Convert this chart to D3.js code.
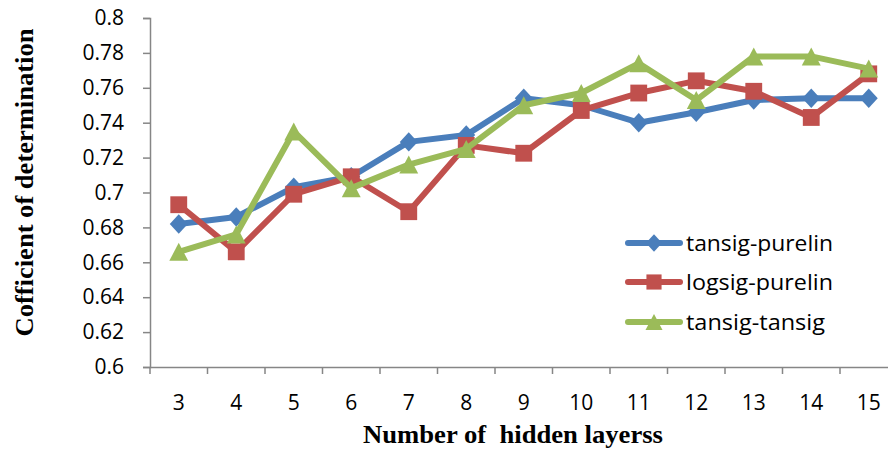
<!DOCTYPE html>
<html><head><meta charset="utf-8">
<script src="https://cdn.jsdelivr.net/npm/d3@7"></script>
<style>body{margin:0;background:#fff}svg{display:block}</style>
</head><body>
<svg id="c" width="888" height="450"></svg>
<script>
const categories = [3,4,5,6,7,8,9,10,11,12,13,14,15];
const tansigPurelin = [0.682,0.686,0.703,0.709,0.729,0.733,0.754,0.750,0.740,0.746,0.753,0.754,0.754];
const logsigPurelin = [0.693,0.666,0.699,0.709,0.689,0.727,0.7225,0.747,0.757,0.764,0.758,0.743,0.768];
const tansigTansig = [0.666,0.676,0.735,0.7025,0.716,0.725,0.750,0.757,0.774,0.753,0.778,0.778,0.771];
const yTicks = [0.6,0.62,0.64,0.66,0.68,0.7,0.72,0.74,0.76,0.78,0.8];
const seriesNames = ["tansig-purelin","logsig-purelin","tansig-tansig"];
const seriesColors = ["#4A7EBB","#C0504D","#9BBB59"];
const series = [tansigPurelin, logsigPurelin, tansigTansig];

(function(){
const svg = d3.select("#c");
const mLeft = 150, mRight = 897.5, mTop = 18, mBottom = 367;
const x = d3.scaleBand().domain(categories).range([mLeft, mRight]).padding(0);
const y = d3.scaleLinear().domain([0.6, 0.8]).range([mBottom, mTop]);
const axisColor = "#868686";
const tickFont = "'Open Sans', 'Noto Sans', sans-serif";
const serif = "'Liberation Serif', 'Times New Roman', serif";

// y axis
const ya = svg.append("g").attr("transform", `translate(${mLeft},0)`)
  .call(d3.axisLeft(y).tickValues(yTicks).tickSize(7).tickPadding(19).tickFormat(d => String(+d.toFixed(2))));
ya.select(".domain").attr("stroke", axisColor).attr("stroke-width", 1.5);
ya.selectAll(".tick line").attr("stroke", axisColor).attr("stroke-width", 1.5);
ya.selectAll("text").attr("font-family", tickFont).attr("font-size", 21).attr("fill", "#000");

// x axis
const xa = svg.append("g").attr("transform", `translate(0,${mBottom})`)
  .call(d3.axisBottom(x).tickSize(0).tickPadding(28));
xa.select(".domain").attr("stroke", axisColor).attr("stroke-width", 1.5);
xa.selectAll("text").attr("font-family", tickFont).attr("font-size", 21).attr("fill", "#000");
const bounds = categories.map(c => x(c)).concat([mRight]);
svg.append("g").selectAll("line").data(bounds).join("line")
  .attr("x1", d => d).attr("x2", d => d).attr("y1", mBottom).attr("y2", mBottom + 7)
  .attr("stroke", axisColor).attr("stroke-width", 1.5);

// axis titles
svg.append("text").attr("transform", `translate(33,182.5) rotate(-90)`)
  .attr("text-anchor", "middle").attr("font-family", serif)
  .attr("font-weight", "bold").attr("font-size", 26)
  .attr("textLength", 308).attr("lengthAdjust", "spacingAndGlyphs")
  .text("Cofficient of determination");
svg.append("text").attr("x", 513).attr("y", 443)
  .attr("text-anchor", "middle").attr("font-family", serif)
  .attr("font-weight", "bold").attr("font-size", 25).style("white-space", "pre")
  .attr("textLength", 300).attr("lengthAdjust", "spacingAndGlyphs")
  .text("Number of  hidden layerss");

const cx = c => x(c) + x.bandwidth() / 2;
const triangleBox = { draw(ctx, size) {
  const h = Math.sqrt(size), w = h * 1.05;
  ctx.moveTo(0, -h / 2); ctx.lineTo(w / 2, h / 2); ctx.lineTo(-w / 2, h / 2); ctx.closePath();
}};
const diamondTall = { draw(ctx, size) {
  const w = Math.sqrt(size), h = w * 1.08;
  ctx.moveTo(0, -h / 2); ctx.lineTo(w / 2, 0); ctx.lineTo(0, h / 2); ctx.lineTo(-w / 2, 0); ctx.closePath();
}};
const symbols = [d3.symbol().type(diamondTall).size(18 * 18),
                 d3.symbol().type(d3.symbolSquare2).size(19 * 19),
                 d3.symbol().type(triangleBox).size(18 * 18)];

const line = d3.line().x((d, i) => cx(categories[i])).y(d => y(d));
series.forEach((s, k) => {
  const g = svg.append("g");
  g.append("path").attr("d", line(s)).attr("fill", "none")
    .attr("stroke", seriesColors[k]).attr("stroke-width", 6)
    .attr("stroke-linejoin", "round").attr("stroke-linecap", "round");
  g.selectAll("path.m").data(s).join("path").attr("class", "m")
    .attr("d", symbols[k])
    .attr("transform", (d, i) => `translate(${cx(categories[i])},${y(d)})`)
    .attr("fill", seriesColors[k]);
});

// legend
const legY = [243, 282, 322];
seriesNames.forEach((n, k) => {
  const g = svg.append("g");
  g.append("line").attr("x1", 628).attr("x2", 680).attr("y1", legY[k]).attr("y2", legY[k])
    .attr("stroke", seriesColors[k]).attr("stroke-width", 6).attr("stroke-linecap", "round");
  g.append("path").attr("d", symbols[k]).attr("transform", `translate(654,${legY[k]}) scale(0.9)`)
    .attr("fill", seriesColors[k]);
  g.append("text").attr("x", 686).attr("y", legY[k]).attr("dy", "0.35em")
    .attr("font-family", tickFont).attr("font-size", 22)
    .attr("textLength", [147, 147, 139][k]).attr("lengthAdjust", "spacingAndGlyphs")
    .text(n);
});
})();
</script>
</body></html>
